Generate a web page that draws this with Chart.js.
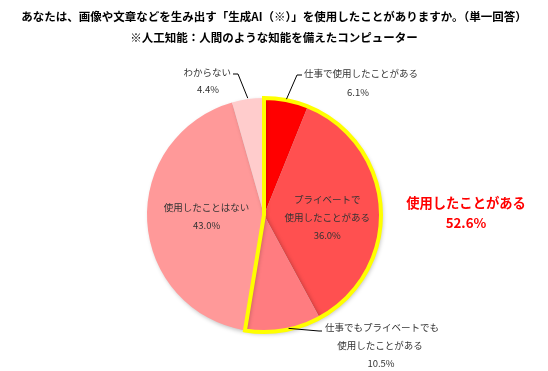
<!DOCTYPE html>
<html><head><meta charset="utf-8">
<script src="https://cdn.jsdelivr.net/npm/chart.js@4"></script>
<style>html,body{margin:0;padding:0;background:#fff}#wrap{width:548px;height:371px}</style>
</head><body><div id="wrap"><canvas id="c" width="548" height="371"></canvas></div>
<script>
const titleLines = ["あなたは、画像や文章などを生み出す「生成AI（※）」を使用したことがありますか。（単一回答）", "※人工知能：人間のような知能を備えたコンピューター"];
const categories = [["仕事で使用したことがある"], ["プライベートで", "使用したことがある"], ["仕事でもプライベートでも", "使用したことがある"], ["使用したことはない"], ["わからない"]];
const values = [6.1, 36.0, 10.5, 43.0, 4.4];
const colors = ["#FF0000", "#FF5050", "#FF7C80", "#FF9999", "#FFCCCC"];
const highlightCount = 3;
const highlightLabel = ["使用したことがある", "52.6%"];

const FONT = '"Noto Sans CJK JP", "Noto Sans", sans-serif';

const shadowPlugin = {
  id: 'shadow',
  beforeDatasetsDraw(chart) {
    const ctx = chart.ctx; ctx.save();
    ctx.shadowColor = 'rgba(0,0,0,0.25)'; ctx.shadowBlur = 4; ctx.shadowOffsetX = 2; ctx.shadowOffsetY = 2;
  },
  afterDatasetsDraw(chart) { chart.ctx.restore(); }
};

const overlayPlugin = {
  id: 'overlay',
  afterDraw(chart) {
    const ctx = chart.ctx;
    const arcs = chart.getDatasetMeta(0).data;
    const a0 = arcs[0], aN = arcs[highlightCount - 1];
    const cx = a0.x, cy = a0.y, R = a0.outerRadius;
    // yellow outline
    ctx.save();
    ctx.beginPath();
    ctx.moveTo(cx, cy);
    ctx.arc(cx, cy, R, a0.startAngle, aN.endAngle);
    ctx.closePath();
    ctx.lineWidth = 4; ctx.strokeStyle = '#FFFF00'; ctx.lineJoin = 'miter';
    ctx.stroke();
    ctx.restore();

    // title
    ctx.save();
    ctx.fillStyle = '#000'; ctx.textAlign = 'center'; ctx.textBaseline = 'middle';
    ctx.font = 'bold 11.5px ' + FONT;
    ctx.fillText(titleLines[0], 274, 17);
    ctx.fillText(titleLines[1], 274, 38);
    ctx.restore();

    const pct = v => v.toFixed(1) + '%';
    const edge = (i, r) => { const a = arcs[i]; const m = (a.startAngle + a.endAngle) / 2; return [cx + Math.cos(m) * r, cy + Math.sin(m) * r]; };

    ctx.save();
    ctx.font = '9.5px ' + FONT; ctx.fillStyle = '#333'; ctx.textBaseline = 'middle';
    ctx.strokeStyle = '#000'; ctx.lineWidth = 1;
    // inner labels
    ctx.textAlign = 'center';
    let p = edge(1, R * 0.55);
    const l1 = categories[1].concat([pct(values[1])]);
    l1.forEach((t, k) => ctx.fillText(t, p[0] - 1, p[1] - 12 + k * 18));
    p = edge(3, R * 0.5);
    const l3 = categories[3].concat([pct(values[3])]);
    l3.forEach((t, k) => ctx.fillText(t, p[0] + 1, p[1] - 11 + k * 18));

    // slice 0 outer
    p = edge(0, R + 1);
    ctx.beginPath(); ctx.moveTo(p[0], p[1]); ctx.lineTo(cx + 33, cy - 140); ctx.lineTo(cx + 38, cy - 140); ctx.stroke();
    ctx.textAlign = 'left';
    ctx.fillText(categories[0][0], cx + 40, cy - 142);
    ctx.textAlign = 'center';
    ctx.fillText(pct(values[0]), cx + 94, cy - 123);

    // slice 4 outer
    p = edge(4, R + 1);
    ctx.beginPath(); ctx.moveTo(p[0], p[1]); ctx.lineTo(cx - 26, cy - 141); ctx.lineTo(cx - 31, cy - 141); ctx.stroke();
    ctx.textAlign = 'right';
    ctx.fillText(categories[4][0], cx - 33, cy - 143);
    ctx.textAlign = 'center';
    ctx.fillText(pct(values[4]), cx - 56, cy - 126);

    // slice 2 outer
    p = edge(2, R + 1);
    ctx.beginPath(); ctx.moveTo(p[0] + 5, p[1] - 3); ctx.lineTo(cx + 55, cy + 116); ctx.lineTo(cx + 58, cy + 116); ctx.stroke();
    ctx.textAlign = 'left';
    ctx.fillText(categories[2][0], cx + 61, cy + 112);
    ctx.textAlign = 'center';
    ctx.fillText(categories[2][1], cx + 116, cy + 130);
    ctx.fillText(pct(values[2]), cx + 117, cy + 148);

    // highlight label
    ctx.font = 'bold 13.3px ' + FONT; ctx.fillStyle = '#FF0000'; ctx.textAlign = 'center';
    ctx.fillText(highlightLabel[0], cx + 202, cy - 12);
    ctx.fillText(highlightLabel[1], cx + 202, cy + 8);
    ctx.restore();
  }
};

new Chart(document.getElementById('c'), {
  type: 'pie',
  data: {
    labels: categories.map(c => c.join('')),
    datasets: [{ data: values, backgroundColor: colors, borderWidth: 0 }]
  },
  options: {
    responsive: false,
    animation: false,
    layout: { padding: { left: 147, right: 167, top: 98, bottom: 39 } },
    plugins: { legend: { display: false }, tooltip: { enabled: false }, title: { display: false } }
  },
  plugins: [shadowPlugin, overlayPlugin]
});
</script></body></html>
